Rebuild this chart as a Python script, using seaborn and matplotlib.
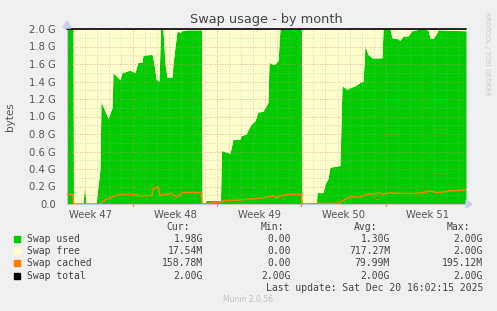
import matplotlib
matplotlib.use("Agg")
import matplotlib.pyplot as plt
import seaborn as sns
import numpy as np
import pandas as pd

# ---- data (days from Mon 17 Nov 2025 00:00, values in GiB) ----
used_days = [0.53, 1.03, 1.07, 1.86, 1.98, 2.11, 2.94, 3.19, 3.27, 3.35, 3.94, 4.27, 4.35, 4.93, 5.10,
             5.76, 6.18, 6.34, 6.43, 6.76, 6.84, 7.59, 7.76, 7.92, 8.17, 8.30, 8.50, 8.67, 8.84, 9.25,
             9.33, 9.67, 9.92, 10.08, 10.50, 11.70, 11.74, 11.99, 12.08, 13.28, 13.36, 14.07, 14.32,
             14.90, 14.98, 15.40, 15.81, 16.14, 16.39, 16.81, 16.98, 17.22, 17.31, 17.56, 17.81, 18.06,
             18.22, 20.01, 20.05, 21.25, 21.29, 21.79, 21.96, 22.21, 22.37, 23.20, 23.37, 23.79, 24.04,
             24.45, 24.87, 25.12, 25.28, 25.53, 25.86, 26.69, 26.78, 27.36, 27.52, 27.94, 28.19, 28.44,
             28.85, 29.18, 29.85, 30.51, 30.68, 30.93, 31.26, 31.34, 33.67]
used_vals = [2.0, 2.0, 0.0, 0.0, 0.21, 0.0, 0.0, 0.3, 0.4, 1.17, 0.98, 1.1, 1.5, 1.42, 1.5,
             1.53, 1.5, 1.58, 1.62, 1.62, 1.7, 1.71, 1.6, 1.43, 1.4, 2.0, 2.0, 1.6, 1.45, 1.45,
             1.6, 1.98, 1.96, 1.98, 1.99, 1.99, 0.0, 0.0, 0.04, 0.04, 0.61, 0.58, 0.74,
             0.74, 0.78, 0.8, 0.91, 0.95, 1.05, 1.06, 1.1, 1.16, 1.62, 1.6, 1.6, 1.64,
             2.0, 2.0, 0.0, 0.0, 0.13, 0.13, 0.23, 0.29, 0.42, 0.44, 1.35, 1.31, 1.33,
             1.35, 1.39, 1.4, 1.81, 1.71, 1.67, 1.67, 2.0, 2.0, 1.9, 1.89, 1.87, 1.92,
             1.92, 1.98, 2.0, 1.99, 1.9, 1.89, 1.96, 1.99, 1.98]

cached_days = [0.53, 1.03, 1.07, 3.27, 3.44, 3.85, 4.27, 4.93, 6.01, 6.43, 6.76, 7.59, 7.67, 8.09,
               8.25, 8.50, 8.84, 9.08, 9.33, 9.67, 9.92, 10.16, 11.70, 11.74, 13.24, 13.65, 14.90,
               16.14, 16.81, 17.64, 17.97, 18.22, 18.80, 20.01, 20.05, 23.20, 23.45, 24.04, 24.87,
               25.45, 26.53, 26.78, 27.11, 29.18, 29.85, 30.68, 30.93, 31.26, 31.51, 32.34, 33.67]
cached_vals = [0.11, 0.11, 0.0, 0.0, 0.02, 0.06, 0.08, 0.11, 0.11, 0.10, 0.095, 0.095, 0.17, 0.2,
               0.095, 0.11, 0.11, 0.125, 0.11, 0.08, 0.11, 0.13, 0.13, 0.0, 0.02, 0.04, 0.046,
               0.06, 0.07, 0.095, 0.07, 0.09, 0.11, 0.11, 0.0, 0.01, 0.04, 0.08, 0.08,
               0.11, 0.125, 0.11, 0.125, 0.12, 0.125, 0.15, 0.14, 0.13, 0.135, 0.15, 0.16]

swap_total = 2.0
week_labels = ["Week 47", "Week 48", "Week 49", "Week 50", "Week 51"]
week_label_pos = [2.5, 9.5, 16.5, 23.5, 30.5]
week_bounds = [6.0, 13.0, 20.0, 27.0]
ytick_vals = [0.0, 0.2, 0.4, 0.6, 0.8, 1.0, 1.2, 1.4, 1.6, 1.8, 2.0]
ytick_labels = ["0.0"] + [f"{v:.1f} G" for v in ytick_vals[1:]]

legend_names = ["Swap used", "Swap free", "Swap cached", "Swap total"]
legend_colors = ["#00CC00", "#FFFFCC", "#FF8000", "#000000"]
col_cur = ["1.98G", "17.54M", "158.78M", "2.00G"]
col_min = ["0.00", "0.00", "0.00", "2.00G"]
col_avg = ["1.30G", "717.27M", "79.99M", "2.00G"]
col_max = ["2.00G", "2.00G", "195.12M", "2.00G"]

# ---- figure ----
sns.set_style("white")
plt.rcParams["font.family"] = ["DejaVu Sans"]
W, H = 497, 311
fig = plt.figure(figsize=(W / 100, H / 100), dpi=100, facecolor="#F0F0F0")
x0, x1, ytop, ybot = 67, 466, 29, 204
ax = fig.add_axes([x0 / W, 1 - ybot / H, (x1 - x0) / W, (ybot - ytop) / H])
ax.set_facecolor("#FFFFCC")
xmin, xmax = 0.53, 33.67
ax.set_xlim(xmin, xmax)
ax.set_ylim(0, 2.0)

used_df = pd.DataFrame({"day": used_days, "used": used_vals})
ax.fill_between(used_df["day"], 0, used_df["used"], color="#00CC00", linewidth=0, zorder=2)
ax.fill_between(used_df["day"], used_df["used"], swap_total, color="#FFFFCC", linewidth=0, zorder=2)

cached_df = pd.DataFrame({"day": cached_days, "cached": cached_vals})
sns.lineplot(data=cached_df, x="day", y="cached", color="#FF8000", linewidth=1.1, ax=ax, zorder=4)
total_df = pd.DataFrame({"day": [xmin, xmax], "total": [swap_total, swap_total]})
sns.lineplot(data=total_df, x="day", y="total", color="#000000", linewidth=1.2, ax=ax, zorder=5,
             clip_on=False)

# grid
for d in range(1, 34):
    if d in [int(w) for w in week_bounds]:
        continue
    ax.axvline(d, color="#AAAAAA", lw=0.6, ls=(0, (1, 2)), alpha=0.6, zorder=3)
for w in week_bounds:
    ax.axvline(w, color="#E08080", lw=0.6, ls=(0, (1, 2)), alpha=0.8, zorder=3)
for v in np.arange(0.1, 2.0, 0.2):
    ax.axhline(v, color="#AAAAAA", lw=0.6, ls=(0, (1, 2)), alpha=0.6, zorder=3)
for v in ytick_vals[1:]:
    ax.axhline(v, color="#E08080", lw=0.6, ls=(0, (1, 2)), alpha=0.8, zorder=3)

for s in ["top", "right"]:
    ax.spines[s].set_visible(False)
ax.spines["left"].set_color("#C8C8C8")
ax.spines["bottom"].set_color("#C8C8C8")
ax.spines["left"].set_linewidth(0.8)
ax.spines["bottom"].set_linewidth(0.8)

ax.set_yticks(ytick_vals)
ax.set_yticklabels(ytick_labels, fontsize=7.2, color="#555555")
ax.tick_params(axis="y", length=2, color="#C8C8C8", pad=6)
ax.set_xticks(week_label_pos)
ax.set_xticklabels(week_labels, fontsize=7.2, color="#555555")
ax.tick_params(axis="x", length=0, pad=4)
for w in week_bounds:
    ax.plot([w, w], [-0.02, 0], color="#E08080", lw=0.8, clip_on=False, zorder=6)
ax.set_xlabel("")
ax.set_ylabel("bytes", fontsize=7.5, color="#555555")
ax.yaxis.set_label_coords(-(x0 - 15) / (x1 - x0), 0.5)

# arrows
fig.patches.append(plt.Polygon([[x1 / W, 1 - 200 / H], [x1 / W, 1 - 208 / H], [472 / W, 1 - 204 / H]],
                               closed=True, transform=fig.transFigure, color="#C8D0F0", zorder=10))
fig.patches.append(plt.Polygon([[63 / W, 1 - 28 / H], [71 / W, 1 - 28 / H], [67 / W, 1 - 21 / H]],
                               closed=True, transform=fig.transFigure, color="#C8D0F0", zorder=10))

fig.text(266 / W, 1 - 19 / H, "Swap usage - by month", ha="center", va="center", fontsize=9.3,
         color="#444444")
fig.text(487 / W, 1 - 54 / H, "RRDTOOL / TOBI OETIKER", ha="center", va="center", rotation=270,
         fontsize=4.7, color="#C8C8C8")

# legend
mono = "DejaVu Sans Mono"
fs = 7
def fy(y):
    return 1 - y / H
fig.text(190 / W, fy(227), "Cur:", ha="right", va="center", family=mono, fontsize=fs, color="#444444")
fig.text(284 / W, fy(227), "Min:", ha="right", va="center", family=mono, fontsize=fs, color="#444444")
fig.text(377 / W, fy(227), "Avg:", ha="right", va="center", family=mono, fontsize=fs, color="#444444")
fig.text(470 / W, fy(227), "Max:", ha="right", va="center", family=mono, fontsize=fs, color="#444444")
for i, name in enumerate(legend_names):
    y = 239 + i * 12.2
    fig.patches.append(plt.Rectangle((14 / W, fy(y + 3)), 6 / W, 6 / H, transform=fig.transFigure,
                                     color=legend_colors[i], zorder=10))
    fig.text(26.7 / W, fy(y), name, ha="left", va="center", family=mono, fontsize=fs, color="#444444")
    fig.text(203 / W, fy(y), col_cur[i], ha="right", va="center", family=mono, fontsize=fs, color="#444444")
    fig.text(291 / W, fy(y), col_min[i], ha="right", va="center", family=mono, fontsize=fs, color="#444444")
    fig.text(390 / W, fy(y), col_avg[i], ha="right", va="center", family=mono, fontsize=fs, color="#444444")
    fig.text(483 / W, fy(y), col_max[i], ha="right", va="center", family=mono, fontsize=fs, color="#444444")
fig.text(483 / W, fy(287.7), "Last update: Sat Dec 20 16:02:15 2025", ha="right", va="center",
         family=mono, fontsize=fs, color="#444444")
fig.text(248 / W, fy(299.7), "Munin 2.0.56", ha="center", va="center", fontsize=5.5, color="#C0C0C0")

fig.savefig("out.png", dpi=100, facecolor=fig.get_facecolor())
